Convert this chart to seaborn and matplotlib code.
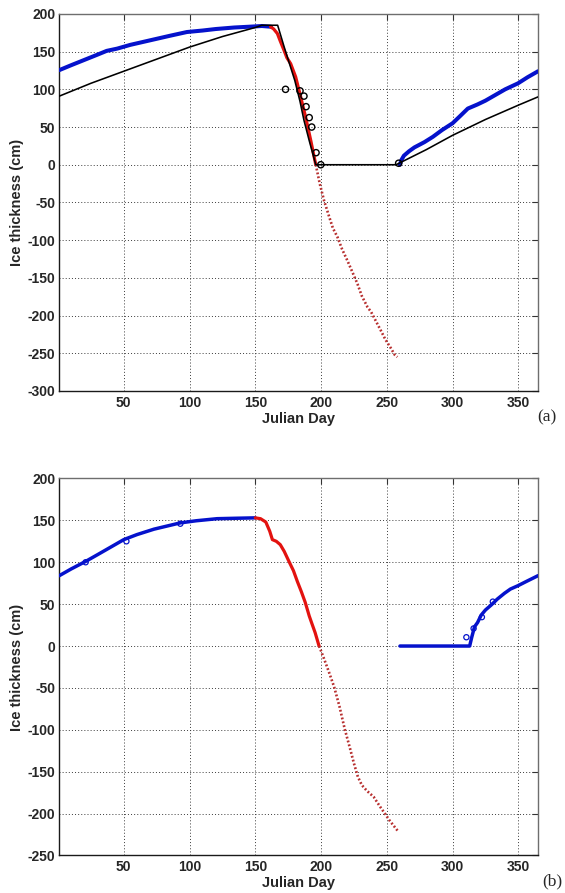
import matplotlib
matplotlib.use("Agg")
import matplotlib.pyplot as plt
import seaborn as sns

# ---------------- panel (a) ----------------
# model ice thickness (thin black)
a_model_day = [1, 25, 50, 75, 100, 125, 150, 155, 167, 172, 176, 180, 184, 187, 191, 196,
               257, 280, 300, 325, 350, 365]
a_model_cm = [91, 108, 124, 140, 156, 170, 182, 185, 185, 156, 134, 112, 84, 59, 32, 0,
              0, 20, 39, 60, 79, 90]

# growth season, first part (thick blue)
a_grow1_day = [1, 10, 20, 30, 37, 45, 55, 70, 85, 98, 110, 120, 134, 145, 155, 162]
a_grow1_cm = [125.5, 132, 139, 146, 151, 154, 159, 165, 171, 176, 178, 180, 182, 183, 184, 183]

# melt season (solid red)
a_melt_day = [161.6, 164, 166.8, 169, 171.8, 174, 176.9, 180.7, 184.5, 188.3, 192.2, 196]
a_melt_cm = [183, 180, 174, 164, 152, 142, 134, 116.5, 90, 63, 32, 0]

# continued melt below zero (dotted red)
a_neg_day = [196, 199, 202.3, 206, 209, 212.5, 216, 220, 224, 227.7, 231, 235.4, 238,
             241, 245.5, 249, 253, 256, 258]
a_neg_cm = [0, -25, -47.5, -68, -84, -96, -112, -127, -143, -158, -174, -189, -195,
            -205, -220, -232, -243, -252, -255]

# growth season, second part (thick blue)
a_grow2_day = [260, 261, 263, 267, 271, 278.6, 285, 292, 300, 306, 311.6, 319, 325, 332,
               340, 349.8, 357, 365]
a_grow2_cm = [0, 6, 12, 18, 23, 30, 37, 46, 55, 65, 74.5, 80, 85, 92, 100, 108, 116, 124]

# observations (open black circles)
a_obs_day = [173, 184, 187, 188.6, 191, 192.9, 196.2, 199.8, 259]
a_obs_cm = [100, 98, 91, 77, 62.5, 50, 16, 0, 2]

# ---------------- panel (b) ----------------
b_grow1_day = [1, 10, 21, 30, 40, 50, 60, 73, 85, 93, 105, 121, 135, 150]
b_grow1_cm = [84, 92, 101, 109, 118, 127, 133, 139.5, 144, 147, 149.5, 152, 152.5, 153]

b_melt_day = [150, 154, 158, 161, 163, 166, 169, 172, 175.6, 179, 182, 185, 188, 191,
              193, 195.5, 198.5]
b_melt_cm = [153, 152, 148, 137, 127, 125, 121, 113, 101, 90, 77, 65, 52, 36, 27, 16, 0]

b_neg_day = [198.5, 202, 206, 210, 214, 218, 222, 225, 228, 231, 235, 240, 245, 249,
             252, 255, 259]
b_neg_cm = [0, -14, -31, -49, -72, -99, -122, -140, -156, -166, -173, -180, -192, -201,
            -208, -214, -222]

b_grow2_day = [260, 313, 314.5, 316.7, 319, 321.8, 325, 329.4, 334, 339.5, 344, 349.7,
               356, 365]
b_grow2_cm = [0, 0, 10, 23, 28, 37, 43, 49, 56, 63, 68, 72, 77, 84]

b_obs_day = [21, 52, 93, 310.5, 316, 322.3, 330.6]
b_obs_cm = [100, 125, 146, 10.5, 21, 34.5, 53]

x_ticks = [50, 100, 150, 200, 250, 300, 350]
a_y_ticks = [-300, -250, -200, -150, -100, -50, 0, 50, 100, 150, 200]
b_y_ticks = [-250, -200, -150, -100, -50, 0, 50, 100, 150, 200]

BLUE = "#0512cc"
RED = "#e3120f"
DOTRED = "#b83030"
DOTTED = (0, (0.7, 0.8))

sns.set_style("white")
plt.rcParams["font.family"] = ["Liberation Sans", "DejaVu Sans"]

fig = plt.figure(figsize=(5.65, 8.93), dpi=100)
ax_a = fig.add_axes([0.105, 0.5622, 0.8473, 0.4222])
ax_b = fig.add_axes([0.105, 0.0420, 0.8473, 0.4222])


def line(ax, x, y, color, lw, ls="-", z=3):
    sns.lineplot(x=x, y=y, ax=ax, color=color, linewidth=lw, linestyle=ls,
                 sort=False, estimator=None, zorder=z)


def style_axes(ax, yticks, ylim):
    ax.set_xlim(1, 365)
    ax.set_ylim(*ylim)
    ax.set_xticks(x_ticks)
    ax.set_xticklabels([str(t) for t in x_ticks], fontweight="bold", fontsize=10)
    ax.set_yticks(yticks)
    ax.set_yticklabels([str(t) for t in yticks], fontweight="bold", fontsize=10)
    ax.grid(True, color="#3a3a3a", linestyle=(0, (1, 2.2)), linewidth=0.7)
    ax.tick_params(direction="in", top=True, right=True, length=4, width=0.8,
                   color="#333333")
    ax.tick_params(axis="x", pad=3.5)
    ax.tick_params(axis="y", pad=3)
    for side in ("left", "bottom"):
        ax.spines[side].set_color("#1a1a1a")
        ax.spines[side].set_linewidth(1.0)
    for side in ("top", "right"):
        ax.spines[side].set_color("#6e6e6e")
        ax.spines[side].set_linewidth(1.0)
    ax.set_xlabel("Julian Day", fontweight="bold", fontsize=10.5)
    ax.set_ylabel("Ice thickness (cm)", fontweight="bold", fontsize=10.5)
    ax.xaxis.set_label_coords(0.5, -21 / 377)
    ax.yaxis.set_label_coords(-0.0748, 0.5)
    ax.set_axisbelow(True)


# panel (a)
line(ax_a, a_model_day, a_model_cm, "black", 1.15, z=4)
line(ax_a, a_grow1_day, a_grow1_cm, BLUE, 2.9)
line(ax_a, a_grow2_day, a_grow2_cm, BLUE, 2.9)
line(ax_a, a_melt_day, a_melt_cm, RED, 2.3)
line(ax_a, a_neg_day, a_neg_cm, DOTRED, 1.9, ls=DOTTED)
sns.scatterplot(x=a_obs_day, y=a_obs_cm, ax=ax_a, marker="o", s=20,
                facecolor="none", edgecolor="black", linewidth=1.0, zorder=5)
style_axes(ax_a, a_y_ticks, (-300, 200))

# panel (b)
line(ax_b, b_grow1_day, b_grow1_cm, BLUE, 2.5)
line(ax_b, b_grow2_day, b_grow2_cm, BLUE, 2.5)
line(ax_b, b_melt_day, b_melt_cm, RED, 2.3)
line(ax_b, b_neg_day, b_neg_cm, DOTRED, 1.9, ls=DOTTED)
sns.scatterplot(x=b_obs_day, y=b_obs_cm, ax=ax_b, marker="o", s=14,
                facecolor="none", edgecolor=BLUE, linewidth=0.9, zorder=5)
style_axes(ax_b, b_y_ticks, (-250, 200))

fig.text(547 / 565, 1 - 417 / 893, "(a)", ha="center", va="center",
         family=["Liberation Serif", "DejaVu Serif"], fontsize=12.5)
fig.text(552 / 565, 1 - 881 / 893, "(b)", ha="center", va="center",
         family=["Liberation Serif", "DejaVu Serif"], fontsize=12.5)

fig.savefig("out.png", dpi=100, facecolor="white")
